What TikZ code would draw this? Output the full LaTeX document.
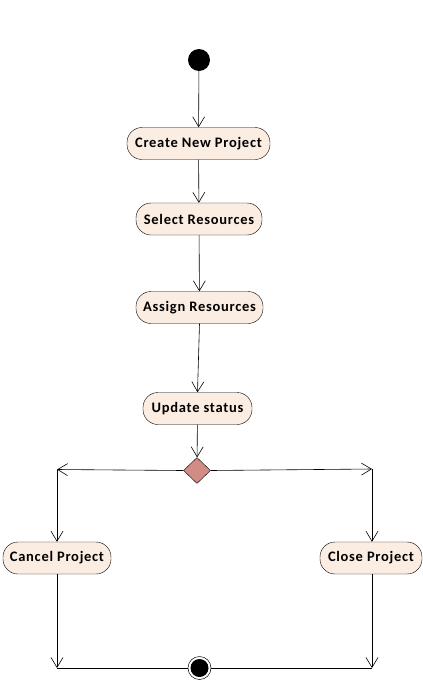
\documentclass[tikz,border=0pt]{standalone}
\usepackage{fontspec}
\setmainfont{Carlito}[LetterSpace=5]
\usetikzlibrary{arrows.meta,shapes.geometric}
\definecolor{actfill}{HTML}{FCEDE3}
\definecolor{decfill}{HTML}{D18C86}
\tikzset{
  x=1pt,y=-1pt,
  act/.style={draw=black,fill=actfill,rounded corners=15pt,minimum height=32pt,
    inner xsep=4pt,font=\fontsize{14.5}{16}\selectfont\bfseries},
  flow/.style={draw=black,line width=0.6pt,-{Straight Barb[length=10pt,width=12pt]}},
  plain/.style={draw=black,line width=0.6pt},
}
\begin{document}
\begin{tikzpicture}
\useasboundingbox (0,0) rectangle (423,683);
\node[circle,fill=black,minimum size=22pt,inner sep=0pt] (start) at (199,60) {};
\node[act,minimum width=143pt] (create) at (198.5,143.5) {Create New Project};
\node[act,minimum width=126pt] (select) at (199,219) {Select Resources};
\node[act,minimum width=127pt] (assign) at (199.5,307.5) {Assign Resources};
\node[act,minimum width=109pt] (update) at (197.5,408.5) {Update status};
\node[diamond,draw=black,fill=decfill,minimum width=27pt,minimum height=26pt,inner sep=0pt] (dec) at (197,470.5) {};
\coordinate (L) at (57,469.5);
\coordinate (R) at (372,469);
\node[act,minimum width=108pt] (cancel) at (57,558) {Cancel Project};
\node[act,minimum width=102pt] (close) at (371,558) {Close Project};
\coordinate (BL) at (57,668);
\coordinate (BR) at (372,668);
\node[circle,draw=black,line width=0.5pt,fill=white,minimum size=23pt,inner sep=0pt] (end) at (199.5,668) {};
\node[circle,fill=black,minimum size=18pt,inner sep=0pt] (endin) at (199.5,668) {};

\draw[flow] (start) -- (create);
\draw[flow] (create) -- (select);
\draw[flow] (select) -- (assign);
\draw[flow] (assign.south) -- (update.north);
\draw[flow] (update) -- (dec);
\draw[flow] (dec.west) -- (L);
\draw[flow] (dec.east) -- (R);
\draw[flow] (L) -- (L |- cancel.north);
\draw[flow] (R) -- (R |- close.north);
\draw[flow] (cancel.south -| BL) -- (BL);
\draw[flow] (close.south -| BR) -- (BR);
\draw[plain] (BL) -- (end.west);
\draw[plain] (end.east) -- (BR);
\end{tikzpicture}
\end{document}
